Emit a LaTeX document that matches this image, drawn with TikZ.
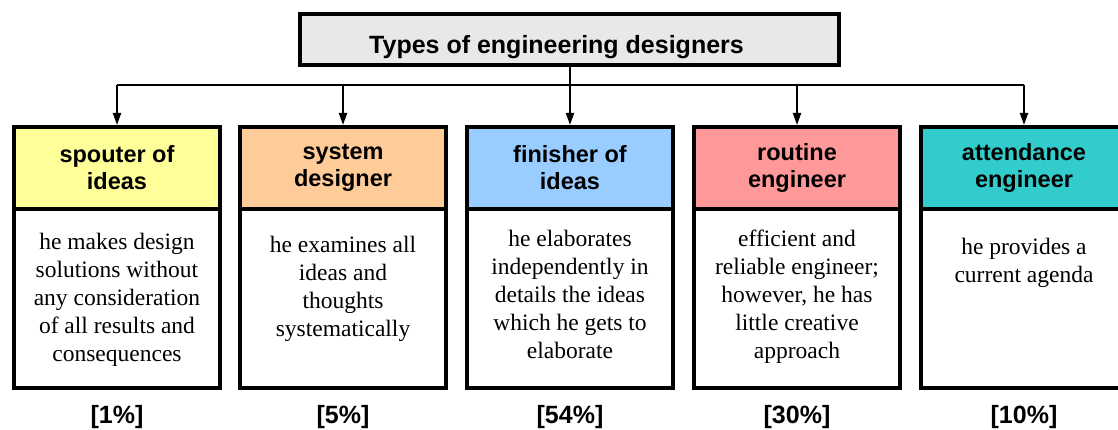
\documentclass[tikz,border=0pt]{standalone}
\usepackage{fontspec}
\setmainfont{Liberation Serif}
\setsansfont{Liberation Sans}
\usetikzlibrary{arrows.meta, positioning}

\definecolor{titlegray}{HTML}{E8E8E8}
\definecolor{spoutercol}{HTML}{FFFF99}
\definecolor{systemcol}{HTML}{FFCC99}
\definecolor{finishercol}{HTML}{99CCFF}
\definecolor{routinecol}{HTML}{FF9999}
\definecolor{attendcol}{HTML}{33CCCC}

\begin{document}
\begin{tikzpicture}[x=1pt, y=-1pt,
			titlebox/.style={draw, line width=4pt, fill=titlegray, minimum width=539pt, minimum height=51pt, inner sep=0pt},
			titletext/.style={anchor=base, inner sep=0pt, font=\sffamily\bfseries\fontsize{25}{30}\selectfont},
			head/.style={draw, line width=4pt, minimum width=206pt, minimum height=82pt, inner sep=0pt, align=center, font=\sffamily\bfseries\fontsize{23.5}{27}\selectfont},
			body/.style={draw, line width=4pt, fill=white, minimum width=206pt, minimum height=180pt, inner sep=0pt},
			desc/.style={align=center, inner sep=0pt, font=\fontsize{23.5}{28}\selectfont},
			share/.style={anchor=base, inner sep=0pt, font=\sffamily\bfseries\fontsize{25}{30}\selectfont},
			connection/.style={-{Stealth[length=12pt, width=8pt, inset=0pt]}, line width=2pt},
			bus/.style={line width=2pt}
			]
			
			\useasboundingbox (0,0) rectangle (1118,430);
			
			% --- TITLE ---
			\node[titlebox] (title) at (569.5,39.5) {};
			\node[titletext] (title-label) at ([xshift=-13pt, yshift=-14pt]title.center) {Types of engineering designers};
			
			% --- TYPES ---
			\foreach \i/\x/\col/\name/\gap/\txt/\pct in {
				1/117/spoutercol/{spouter of\\ideas}/27pt/{he makes design\\solutions without\\any consideration\\of all results and\\consequences}/1,
				2/343/systemcol/{system\\designer}/30pt/{he examines all\\ideas and\\thoughts\\systematically}/5,
				3/570/finishercol/{finisher of\\ideas}/24pt/{he elaborates\\independently in\\details the ideas\\which he gets to\\elaborate}/54,
				4/797/routinecol/{routine\\engineer}/24pt/{efficient and\\reliable engineer;\\however, he has\\little creative\\approach}/30,
				5/1024/attendcol/{attendance\\engineer}/32pt/{he provides a\\current agenda}/10} {
				\node[body] (body-\i) at (\x,298) {};
				\node[head, fill=\col] (head-\i) at (\x,168) {\name};
				\node[desc, below=\gap of body-\i.north] (txt-\i) {\txt};
				\node[share] (pct-\i) at ([yshift=-33pt]body-\i.south) {[\pct\%]};
			}
			
			% --- CONNECTIONS ---
			\coordinate (bus) at (title.south |- 0,85);
			\foreach \i in {1,...,5}
			\coordinate (tap-\i) at (head-\i.north |- bus);
			
			\draw[bus] (title.south) -- (bus);
			\draw[bus] (tap-1) -- (tap-5);
			\foreach \i in {1,...,5}
			\draw[connection] (tap-\i) -- (head-\i.north);
			
		\end{tikzpicture}
\end{document}
